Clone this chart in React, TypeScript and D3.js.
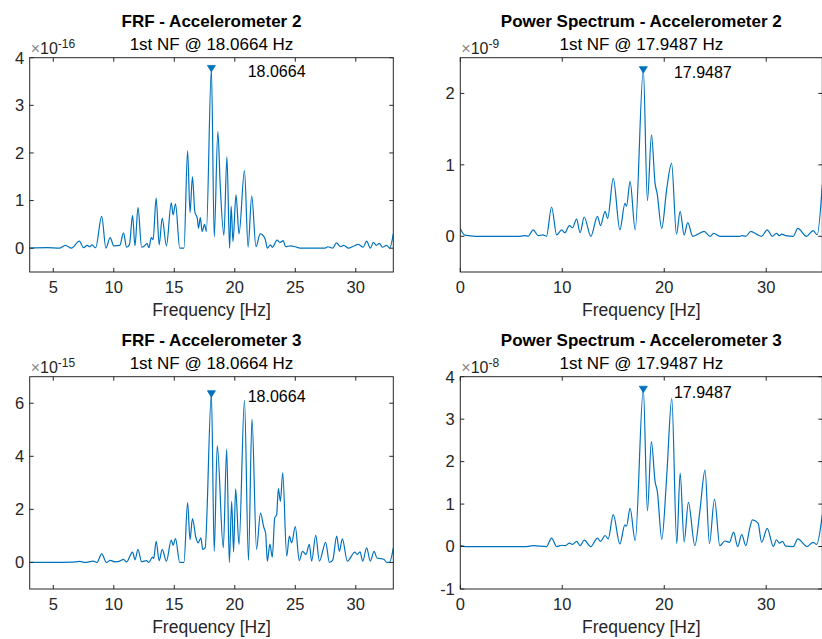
import React from "react";
import * as d3 from "d3";

// ---------- DATA (frequency [Hz], amplitude in axis exponent units) ----------
const frfAcc2: [number, number][] = [
  [3.05,0.0],[4.5,0.01],[5.5,0.0],[6.0,0.06],[6.5,0.0],[7.15,0.15],[7.5,0.01],[7.8,0.06],[8.0,0.03],[8.2,0.07],[8.5,0.01],[9.0,0.67],[9.35,0.0],[9.7,0.22],[10.0,0.05],[10.5,0.06],[10.8,0.32],[11.06,0.02],[11.3,0.08],[11.55,0.69],[11.75,0.05],[12.0,0.85],[12.3,0.02],[12.55,0.05],[12.75,0.1],[12.9,0.01],[13.1,0.22],[13.25,0.18],[13.5,1.05],[13.75,0.07],[14.0,0.63],[14.35,0.05],[14.75,0.95],[14.9,0.7],[15.1,0.93],[15.45,0.0],[15.8,0.0],[16.1,2.05],[16.3,0.75],[16.5,1.5],[16.7,0.76],[16.9,0.63],[17.0,0.42],[17.15,0.64],[17.3,0.35],[17.5,0.5],[17.65,0.35],[18.0664,3.77],[18.3,0.24],[18.6,2.45],[18.8,1.3],[19.1,0.27],[19.35,1.92],[19.57,0.0],[19.7,0.88],[19.85,0.14],[20.1,1.12],[20.35,0.3],[20.8,1.63],[21.1,0.02],[21.4,1.1],[21.75,0.03],[22.1,0.3],[22.5,0.2],[22.7,0.0],[22.95,0.07],[23.1,0.02],[23.5,0.17],[23.75,0.12],[24.0,0.16],[24.2,0.03],[24.6,0.05],[25.0,0.03],[25.4,0.0],[27.45,0.0],[27.7,0.03],[28.1,0.0],[28.4,0.11],[28.75,0.03],[29.0,0.06],[29.4,0.0],[29.8,0.04],[30.2,0.08],[30.6,0.02],[30.9,0.15],[31.2,0.0],[31.45,0.12],[31.7,0.06],[31.95,0.1],[32.2,0.02],[32.55,0.06],[32.8,0.0],[33.1,0.3]
];
const psAcc2: [number, number][] = [
  [0,0.11],[0.45,0.015],[1.5,0.0],[5.85,0.0],[6.35,0.01],[6.65,0.0],[7.15,0.09],[7.65,0.01],[8.1,0.02],[8.45,0.0],[8.95,0.41],[9.45,0.02],[9.95,0.09],[10.25,0.05],[10.7,0.15],[11.0,0.12],[11.4,0.24],[11.75,0.05],[12.15,0.27],[12.8,0.0],[13.45,0.28],[13.75,0.15],[14.2,0.35],[14.45,0.25],[15.0,0.81],[15.65,0.09],[16.15,0.46],[16.3,0.42],[16.65,0.77],[17.15,0.09],[17.9487,2.33],[18.35,0.5],[18.75,1.42],[19.1,0.74],[19.3,0.6],[19.75,0.11],[20.25,0.67],[20.72,1.02],[21.2,0.03],[21.56,0.35],[21.95,0.02],[22.3,0.19],[22.8,0.0],[23.3,0.03],[23.9,0.07],[24.5,0.0],[24.85,0.04],[25.45,0.0],[27.4,0.0],[27.6,0.01],[28.0,0.0],[28.5,0.07],[29.05,0.03],[29.55,0.0],[30.1,0.09],[30.6,0.0],[31.0,0.04],[31.3,0.01],[31.5,0.03],[31.9,0.01],[32.65,0.0],[33.1,0.11],[33.95,0.0],[34.6,0.08],[35.0,0.02],[35.5,0.72]
];
const frfAcc3: [number, number][] = [
  [3.05,0.0],[5.0,0.0],[6.5,0.01],[7.2,0.04],[7.6,0.0],[8.3,0.05],[8.6,0.0],[9.0,0.32],[9.4,0.0],[9.7,0.08],[10.1,0.02],[10.5,0.05],[10.8,0.12],[11.05,0.02],[11.55,0.39],[11.75,0.1],[12.0,0.49],[12.3,0.03],[12.7,0.07],[12.9,0.0],[13.2,0.2],[13.3,0.15],[13.5,0.8],[13.75,0.07],[14.0,0.49],[14.35,0.05],[14.75,0.84],[14.9,0.65],[15.1,0.9],[15.45,0.0],[15.8,0.0],[16.1,2.26],[16.3,0.86],[16.5,1.65],[16.79,0.93],[16.98,0.74],[17.2,0.93],[17.35,0.49],[17.55,0.55],[18.0664,6.35],[18.3,0.42],[18.55,4.4],[19.05,0.55],[19.33,4.27],[19.55,0.0],[19.74,2.3],[19.9,0.4],[20.07,2.77],[20.35,0.68],[20.8,6.11],[21.13,0.08],[21.42,5.4],[21.8,0.49],[22.12,1.86],[22.4,1.32],[22.55,1.1],[22.69,0.05],[22.9,0.69],[23.1,0.2],[23.3,1.67],[23.46,1.8],[23.6,2.78],[23.77,2.3],[23.96,3.38],[24.29,0.24],[24.51,0.99],[24.7,0.74],[25.0,1.35],[25.33,0.07],[25.6,0.42],[25.88,0.3],[26.16,0.68],[26.35,0.05],[26.69,1.02],[26.99,0.05],[27.51,0.76],[27.82,0.0],[28.1,0.1],[28.42,0.99],[28.64,0.42],[28.89,0.89],[29.3,0.05],[29.93,0.39],[30.1,0.3],[30.35,0.4],[30.57,0.05],[30.9,0.55],[31.2,0.05],[31.51,0.42],[31.75,0.17],[32.0,0.15],[32.34,0.11],[32.56,0.0],[32.78,0.0],[33.1,0.55]
];
const psAcc3: [number, number][] = [
  [0,0.02],[0.5,0.0],[6.5,0.0],[7.15,0.02],[8.45,0.0],[8.95,0.2],[9.45,0.0],[9.95,0.03],[10.3,0.02],[10.7,0.08],[11.0,0.05],[11.4,0.12],[11.75,0.02],[12.15,0.15],[12.8,0.0],[13.45,0.2],[13.75,0.12],[14.2,0.26],[14.5,0.18],[15.0,0.75],[15.65,0.06],[16.14,0.51],[16.3,0.48],[16.65,0.9],[17.15,0.14],[17.9487,3.7],[18.35,0.84],[18.74,2.47],[19.1,1.53],[19.32,1.3],[19.76,0.17],[20.25,1.69],[20.74,3.49],[21.23,0.07],[21.56,1.73],[21.95,0.11],[22.37,1.04],[23.0,0.02],[23.5,0.85],[24.0,1.8],[24.43,0.07],[24.93,1.12],[25.45,0.02],[25.95,0.13],[26.4,0.1],[26.8,0.34],[27.2,0.0],[27.6,0.28],[28.0,0.02],[28.4,0.45],[28.65,0.63],[29.2,0.55],[29.55,0.1],[30.1,0.43],[30.7,0.0],[31.0,0.16],[31.3,0.08],[31.6,0.12],[31.9,0.01],[32.65,0.0],[33.1,0.18],[34.0,0.0],[34.6,0.1],[34.95,0.05],[35.5,0.75]
];

const peakFreqs = [18.0664, 17.9487, 18.0664, 17.9487];
const peakVals = [3.77, 2.33, 6.35, 3.7];
const titles = ["FRF - Accelerometer 2", "Power Spectrum - Accelerometer 2", "FRF - Accelerometer 3", "Power Spectrum - Accelerometer 3"];
const exponents = ["-16", "-9", "-15", "-8"];
const xTicksFrf = [5, 10, 15, 20, 25, 30];
const xTicksPs = [0, 10, 20, 30];
const yTicks = [[0, 1, 2, 3, 4], [0, 1, 2], [0, 2, 4, 6], [-1, 0, 1, 2, 3, 4]];
const xDomains: [number, number][] = [[3.05, 33.1], [0, 35.5], [3.05, 33.1], [0, 35.5]];
const yDomains: [number, number][] = [[-0.5, 4], [-0.5, 2.5], [-1, 7], [-1, 4]];

const FONT = "'Liberation Sans', Arial, Helvetica, sans-serif";
const BLUE = "#0072BD";
const AX = "#262626";

type PanelProps = {
  idx: number;
  left: number; right: number; top: number; bottom: number;
  data: [number, number][];
  xTicks: number[];
};

function Panel({ idx, left, right, top, bottom, data, xTicks }: PanelProps) {
  const x = d3.scaleLinear().domain(xDomains[idx]).range([left, right]);
  const y = d3.scaleLinear().domain(yDomains[idx]).range([bottom, top]);
  const line = d3.line<[number, number]>().x(d => x(d[0])).y(d => y(d[1])).curve(d3.curveMonotoneX);
  const clipId = `clip${idx}`;
  const pf = peakFreqs[idx], pv = peakVals[idx];
  const px = x(pf), py = y(pv);
  const cx = (left + right) / 2;
  const tl = 4;
  return (
    <g>
      <defs>
        <clipPath id={clipId}>
          <rect x={left} y={top} width={right - left} height={bottom - top} />
        </clipPath>
      </defs>
      <path d={line(data) || ""} fill="none" stroke={BLUE} strokeWidth={1.2} clipPath={`url(#${clipId})`} strokeLinejoin="round" />
      <rect x={left} y={top} width={right - left} height={bottom - top} fill="none" stroke={AX} strokeWidth={1} />
      {xTicks.map(t => (
        <g key={"x" + t}>
          <line x1={x(t)} x2={x(t)} y1={bottom} y2={bottom - tl} stroke={AX} />
          <line x1={x(t)} x2={x(t)} y1={top} y2={top + tl} stroke={AX} />
          <text x={x(t)} y={bottom + 21} textAnchor="middle" fontSize={16.5} fill={AX} fontFamily={FONT}>{t}</text>
        </g>
      ))}
      {yTicks[idx].map(t => (
        <g key={"y" + t}>
          <line x1={left} x2={left + tl} y1={y(t)} y2={y(t)} stroke={AX} />
          <line x1={right} x2={right - tl} y1={y(t)} y2={y(t)} stroke={AX} />
          <text x={left - 5.5} y={y(t) + 5.8} textAnchor="end" fontSize={16.5} fill={AX} fontFamily={FONT}>{t}</text>
        </g>
      ))}
      <text x={cx} y={bottom + 44} textAnchor="middle" fontSize={17.5} fill={AX} fontFamily={FONT}>Frequency [Hz]</text>
      <text x={cx} y={top - 31} textAnchor="middle" fontSize={17} fontWeight="bold" fill="#000" fontFamily={FONT}>{titles[idx]}</text>
      <text x={cx} y={top - 8} textAnchor="middle" fontSize={17} fill="#000" fontFamily={FONT}>{`1st NF @ ${pf} Hz`}</text>
      <text x={left + 1} y={top - 4} fontSize={16} fill={AX} fontFamily={FONT}>
        <tspan fill="#888">×</tspan>10<tspan dy={-6} fontSize={12}>{exponents[idx]}</tspan>
      </text>
      <path d={`M${px - 4},${py - 3.2} L${px + 4},${py - 3.2} L${px},${py + 3.2} Z`} fill={BLUE} stroke={BLUE} strokeWidth={0.8} />
      <text x={x(pf + 3)} y={py + 8.5} fontSize={16} fill="#000" fontFamily={FONT}>{String(pf)}</text>
    </g>
  );
}

export default function App() {
  return (
    <svg width={822} height={639} style={{ position: "absolute", left: 0, top: 0, background: "#fff" }}>
      <rect x={0} y={0} width={822} height={639} fill="#fff" />
      <Panel idx={0} left={29.7} right={393.3} top={57.7} bottom={272} data={frfAcc2} xTicks={xTicksFrf} />
      <Panel idx={1} left={460.3} right={822.3} top={57.7} bottom={272} data={psAcc2} xTicks={xTicksPs} />
      <Panel idx={2} left={29.7} right={393.3} top={376.7} bottom={589} data={frfAcc3} xTicks={xTicksFrf} />
      <Panel idx={3} left={460.3} right={822.3} top={376.7} bottom={589} data={psAcc3} xTicks={xTicksPs} />
    </svg>
  );
}
